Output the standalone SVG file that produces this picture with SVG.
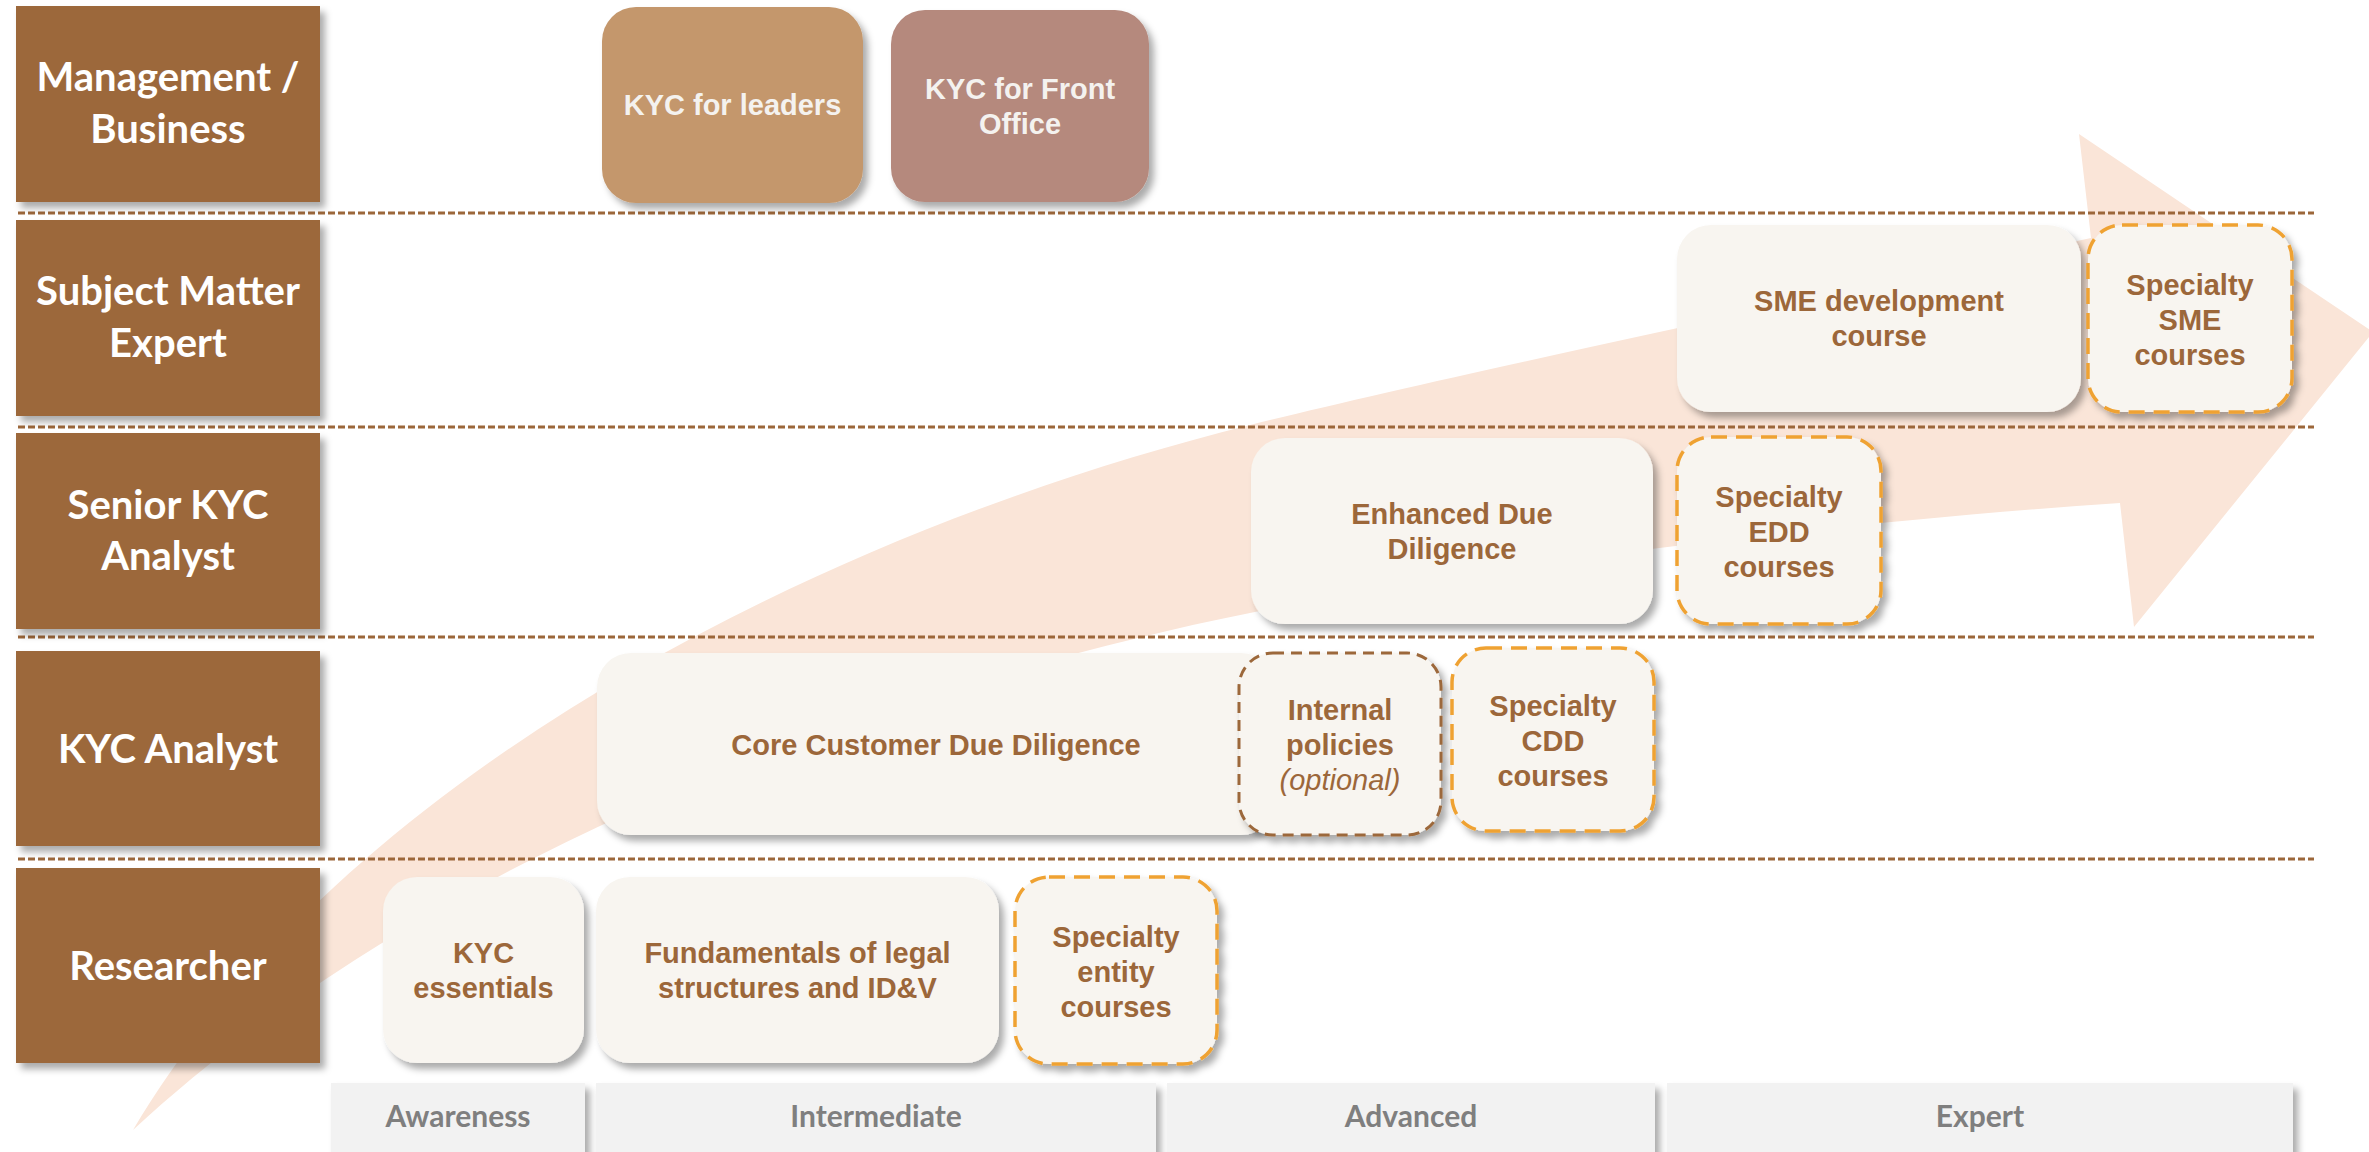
<svg xmlns="http://www.w3.org/2000/svg" width="2369" height="1152" viewBox="0 0 2369 1152">
<defs>
<filter id="sh" x="-10%" y="-10%" width="125%" height="130%">
<feDropShadow dx="5" dy="6" stdDeviation="3.5" flood-color="#000" flood-opacity="0.33"/>
</filter>
<style>
.role{fill:#9C673A;filter:url(#sh)}
.rt{font-family:Lato,"Open Sans",sans-serif;font-weight:bold;font-size:40px;fill:#fff;text-anchor:middle}
.box{fill:#F8F5F0;filter:url(#sh)}
.opt{fill:#F8F5F0;stroke:#EFA233;stroke-width:3.5;stroke-dasharray:16 9;filter:url(#sh)}
.int{fill:#F8F5F0;stroke:#9C673A;stroke-width:3;stroke-dasharray:11 7;filter:url(#sh)}
.ct{font-family:"Liberation Sans",Arial,sans-serif;font-weight:bold;font-size:29px;fill:#9C673A;text-anchor:middle}
.it{font-weight:normal;font-style:italic}
.sep{stroke:#9C673A;stroke-width:3;stroke-dasharray:7 3;fill:none}
.lvl{fill:#F2F2F2;filter:url(#sh)}
.lt{font-family:Lato,"Open Sans",sans-serif;font-weight:bold;font-size:30px;fill:#7F7F7F;text-anchor:middle}
</style>
</defs>
<rect width="2369" height="1152" fill="#fff"/>
<g id="progress-arrow">
<path d="M133,1130 C337,786 800,537.5 1250,425 C1450,375 1880,285 2091,238 L2079,134 L2373,332 L2134,627 L2120,503 C1830,522 1450,570 1250,613 C900,683 433,851 133,1130 Z" fill="#FAE5D8"/>
</g>
<g id="separators">
<line class="sep" x1="18" y1="213" x2="2314" y2="213"/>
<line class="sep" x1="18" y1="427" x2="2314" y2="427"/>
<line class="sep" x1="18" y1="637" x2="2314" y2="637"/>
<line class="sep" x1="18" y1="859" x2="2314" y2="859"/>
</g>
<g id="connectors"></g>
<g id="role-management"><rect class="role" x="16" y="6" width="304" height="196"/><text class="rt" x="168" y="91">Management /</text><text class="rt" x="168" y="143">Business</text></g>
<g id="role-sme"><rect class="role" x="16" y="220" width="304" height="196"/><text class="rt" x="168" y="305">Subject Matter</text><text class="rt" x="168" y="357">Expert</text></g>
<g id="role-senior"><rect class="role" x="16" y="433" width="304" height="196"/><text class="rt" x="168" y="519">Senior KYC</text><text class="rt" x="168" y="570">Analyst</text></g>
<g id="role-analyst"><rect class="role" x="16" y="651" width="304" height="195"/><text class="rt" x="168" y="763">KYC Analyst</text></g>
<g id="role-researcher"><rect class="role" x="16" y="868" width="304" height="195"/><text class="rt" x="168" y="980">Researcher</text></g>

<g id="kyc-leaders"><rect x="602" y="7" width="261" height="196" rx="34" fill="#C4976C" filter="url(#sh)"/><text class="ct" x="732.5" y="115" style="fill:#F4F2EF">KYC for leaders</text></g>
<g id="kyc-front-office"><rect x="891" y="10" width="258" height="192" rx="34" fill="#B5897D" filter="url(#sh)"/><text class="ct" x="1020" y="99" style="fill:#F4F2EF">KYC for Front</text><text class="ct" x="1020" y="134" style="fill:#F4F2EF">Office</text></g>

<g id="sme-development"><rect class="box" x="1677" y="225" width="404" height="187" rx="34"/><text class="ct" x="1879" y="311">SME development</text><text class="ct" x="1879" y="346">course</text></g>
<g id="specialty-sme"><rect class="opt" x="2088" y="225" width="204" height="187" rx="34"/><text class="ct" x="2190" y="295">Specialty</text><text class="ct" x="2190" y="330">SME</text><text class="ct" x="2190" y="365">courses</text></g>

<g id="edd"><rect class="box" x="1251" y="438" width="402" height="186" rx="34"/><text class="ct" x="1452" y="524">Enhanced Due</text><text class="ct" x="1452" y="559">Diligence</text></g>
<g id="specialty-edd"><rect class="opt" x="1677" y="437" width="204" height="187" rx="34"/><text class="ct" x="1779" y="507">Specialty</text><text class="ct" x="1779" y="542">EDD</text><text class="ct" x="1779" y="577">courses</text></g>

<g id="core-cdd"><rect class="box" x="597" y="653" width="678" height="182" rx="34"/><text class="ct" x="936" y="755">Core Customer Due Diligence</text></g>
<g id="internal-policies"><rect class="int" x="1239" y="653" width="202" height="182" rx="34"/><text class="ct" x="1340" y="720">Internal</text><text class="ct" x="1340" y="755">policies</text><text class="ct it" x="1340" y="790">(optional)</text></g>
<g id="specialty-cdd"><rect class="opt" x="1452" y="648" width="202" height="183" rx="34"/><text class="ct" x="1553" y="716">Specialty</text><text class="ct" x="1553" y="751">CDD</text><text class="ct" x="1553" y="786">courses</text></g>

<g id="kyc-essentials"><rect class="box" x="383" y="877" width="201" height="186" rx="34"/><text class="ct" x="483.5" y="963">KYC</text><text class="ct" x="483.5" y="998">essentials</text></g>
<g id="fundamentals"><rect class="box" x="596" y="877" width="403" height="186" rx="34"/><text class="ct" x="797.5" y="963">Fundamentals of legal</text><text class="ct" x="797.5" y="998">structures and ID&amp;V</text></g>
<g id="specialty-entity"><rect class="opt" x="1015" y="877" width="202" height="187" rx="34"/><text class="ct" x="1116" y="947">Specialty</text><text class="ct" x="1116" y="982">entity</text><text class="ct" x="1116" y="1017">courses</text></g>

<g id="level-awareness"><rect class="lvl" x="331" y="1083" width="254" height="90"/><text class="lt" x="458" y="1127">Awareness</text></g>
<g id="level-intermediate"><rect class="lvl" x="596" y="1083" width="560" height="90"/><text class="lt" x="876" y="1127">Intermediate</text></g>
<g id="level-advanced"><rect class="lvl" x="1167" y="1083" width="488" height="90"/><text class="lt" x="1411" y="1127">Advanced</text></g>
<g id="level-expert"><rect class="lvl" x="1667" y="1083" width="626" height="90"/><text class="lt" x="1980" y="1127">Expert</text></g>
</svg>
